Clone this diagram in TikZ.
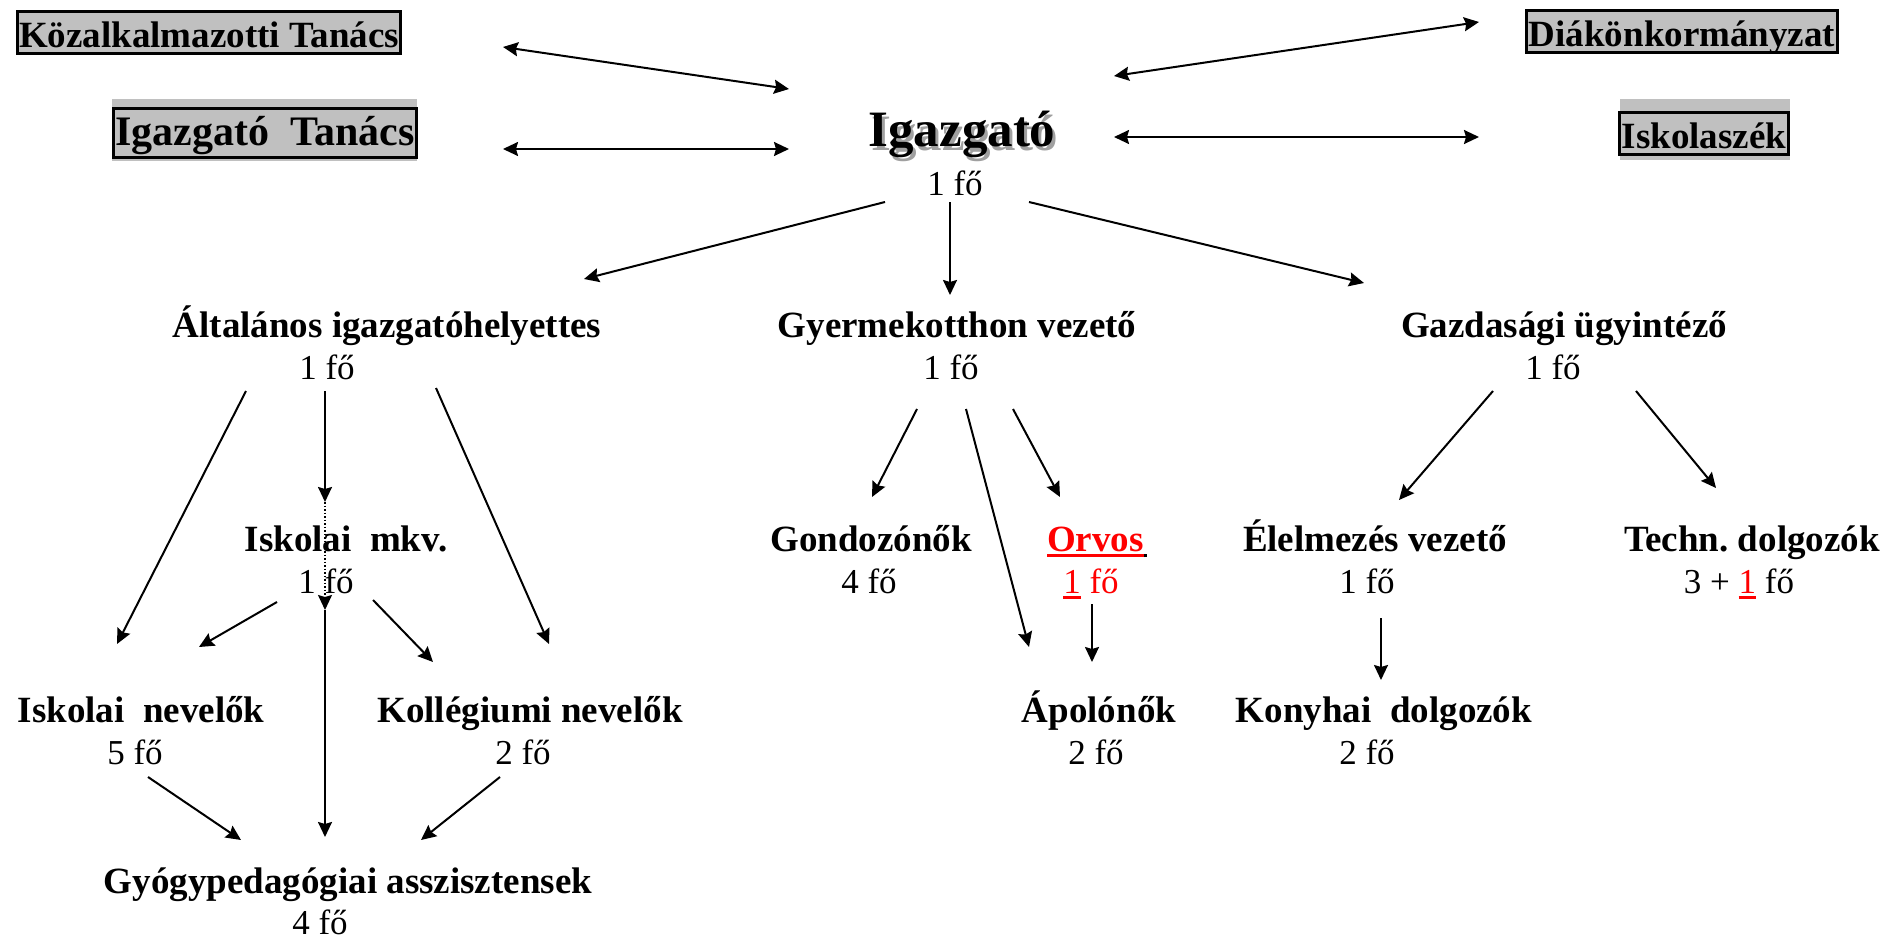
\documentclass[tikz,border=0pt]{standalone}
\usepackage{fontspec}
\setmainfont{Liberation Serif}
\usetikzlibrary{arrows.meta, backgrounds}
\definecolor{boxgray}{RGB}{192,192,192}
\definecolor{shadowgray}{RGB}{160,160,160}
\definecolor{docred}{RGB}{255,0,0}
\frenchspacing

% underline with a thick rule, in the current colour
\newsavebox{\ulbox}
\newcommand{\ulined}[1]{\sbox{\ulbox}{#1}\rlap{\rule[-6pt]{\wd\ulbox}{3pt}}\usebox{\ulbox}}

\begin{document}
\begin{tikzpicture}[
    x=1pt, y=-1pt,
    title/.style={anchor=base, inner sep=0pt, font=\fontsize{37}{40}\selectfont\bfseries},
    count/.style={anchor=base, inner sep=0pt, font=\fontsize{35}{40}\selectfont},
    board/.style={anchor=base, draw=black, line width=3pt, fill=boxgray, inner xsep=2pt, inner ysep=0pt, text height=36pt, text depth=5.5pt, font=\fontsize{37}{40}\selectfont\bfseries},
    arrow/.style={-{Stealth[length=15pt, width=14pt, inset=2pt]}, line width=2pt},
    twoway/.style={{Stealth[length=15pt, width=14pt, inset=2pt]}-{Stealth[length=15pt, width=14pt, inset=2pt]}, line width=2pt}
]
    \useasboundingbox (0,0) rectangle (1888,939);

    % boards
    \node[board] (koz) at (209,48) {Közalkalmazotti Tanács};
    \node[board, text height=37.5pt, text depth=11.5pt, font=\fontsize{42}{46}\selectfont\bfseries] (igt) at (265,146) {Igazgató\ \ Tanács};
    \node[board] (diak) at (1682,47) {Diákönkormányzat};
    \node[board] (iskszek) at (1704,149) {Iskolaszék};
    \begin{scope}[on background layer]
        \fill[boxgray] ([shift={(0,-8)}]igt.north west) rectangle ([shift={(-1,2)}]igt.south east);
        \fill[boxgray] ([shift={(2,-12)}]iskszek.north west) rectangle ([shift={(0,4)}]iskszek.south east);
    \end{scope}

    % head
    \node[anchor=base, inner sep=0pt, font=\fontsize{51}{56}\selectfont\bfseries, text=shadowgray] (ig-shadow) at (965,150) {Igazgató};
    \node[anchor=base, inner sep=0pt, font=\fontsize{51}{56}\selectfont\bfseries] (ig) at (962,147) {Igazgató};
    \node[count] (ig-n) at (955,195) {1 fő};

    % second level
    \node[title] (alt) at (387,337) {Általános igazgatóhelyettes};
    \node[count] (alt-n) at (327,379) {1 fő};
    \node[title] (gyer) at (957,337) {Gyermekotthon vezető};
    \node[count] (gyer-n) at (951,379) {1 fő};
    \node[title] (gaz) at (1564,337) {Gazdasági ügyintéző};
    \node[count] (gaz-n) at (1553,379) {1 fő};

    % third level
    \node[title] (mkv) at (346,551) {Iskolai\ \ mkv.};
    \node[count] (mkv-n) at (326,593) {1 fő};
    \node[title] (gond) at (871,551) {Gondozónők};
    \node[count] (gond-n) at (869,593) {4 fő};
    \node[title, text=docred] (orvos) at (1097,551) {\ulined{Orvos}{\color{black}\rule[-6pt]{3pt}{3pt}}};
    \node[count, text=docred] (orvos-n) at (1091,593) {\ulined{1} fő};
    \node[title] (elel) at (1375,551) {Élelmezés vezető};
    \node[count] (elel-n) at (1367,593) {1 fő};
    \node[title] (techn) at (1752,551) {Techn. dolgozók};
    \node[count] (techn-n) at (1739,593) {3 + {\color{docred}\ulined{1}} fő};

    % fourth level
    \node[title] (isknev) at (141,722) {Iskolai\ \ nevelők};
    \node[count] (isknev-n) at (135,764) {5 fő};
    \node[title] (koll) at (530,722) {Kollégiumi nevelők};
    \node[count] (koll-n) at (523,764) {2 fő};
    \node[title] (apol) at (1099,722) {Ápolónők};
    \node[count] (apol-n) at (1096,764) {2 fő};
    \node[title] (konyha) at (1384,722) {Konyhai\ \ dolgozók};
    \node[count] (konyha-n) at (1367,764) {2 fő};

    % fifth level
    \node[title] (gyogy) at (348,893) {Gyógypedagógiai asszisztensek};
    \node[count] (gyogy-n) at (320,934) {4 fő};

    % links to the boards
    \draw[twoway] ([shift={(294,-1)}]koz.base) -- ([shift={(-173,-58)}]ig.base);
    \draw[twoway] ([shift={(238,3)}]igt.base) -- ([shift={(-173,2)}]ig.base);
    \draw[twoway] ([shift={(152,-71)}]ig.base) -- ([shift={(-203,-25)}]diak.base);
    \draw[twoway] ([shift={(152,-10)}]ig.base) -- ([shift={(-225,-12)}]iskszek.base);

    % from the head
    \draw[arrow] ([shift={(-70,7)}]ig-n.base) -- ([shift={(197,-58)}]alt.base);
    \draw[arrow] ([shift={(-5,7)}]ig-n.base) -- ([shift={(-7,-42)}]gyer.base);
    \draw[arrow] ([shift={(74,7)}]ig-n.base) -- ([shift={(-200,-54)}]gaz.base);

    % school side
    \draw[arrow] ([shift={(-81,12)}]alt-n.base) -- ([shift={(-24,-78)}]isknev.base);
    \draw[arrow] ([shift={(-2,12)}]alt-n.base) -- ([shift={(-21,-49)}]mkv.base);
    \draw[arrow] ([shift={(109,9)}]alt-n.base) -- ([shift={(19,-78)}]koll.base);
    \draw[arrow, line width=1.5pt, dotted] ([shift={(-21,-49)}]mkv.base) -- ([shift={(-1,17)}]mkv-n.base);
    \draw[arrow] ([shift={(-1,17)}]mkv-n.base) -- ([shift={(-23,-56)}]gyogy.base);
    \draw[arrow] ([shift={(-49,9)}]mkv-n.base) -- ([shift={(58,-75)}]isknev.base);
    \draw[arrow] ([shift={(47,7)}]mkv-n.base) -- ([shift={(-97,-60)}]koll.base);
    \draw[arrow] ([shift={(13,13)}]isknev-n.base) -- ([shift={(-107,-53)}]gyogy.base);
    \draw[arrow] ([shift={(-23,13)}]koll-n.base) -- ([shift={(73,-53)}]gyogy.base);

    % children's home
    \draw[arrow] ([shift={(-34,30)}]gyer-n.base) -- ([shift={(1,-54)}]gond.base);
    \draw[arrow] ([shift={(15,30)}]gyer-n.base) -- ([shift={(-70,-75)}]apol.base);
    \draw[arrow] ([shift={(62,30)}]gyer-n.base) -- ([shift={(-37,-54)}]orvos.base);
    \draw[arrow] ([shift={(1,11)}]orvos-n.base) -- ([shift={(-7,-60)}]apol.base);

    % finance
    \draw[arrow] ([shift={(-60,12)}]gaz-n.base) -- ([shift={(24,-51)}]elel.base);
    \draw[arrow] ([shift={(83,12)}]gaz-n.base) -- ([shift={(-36,-63)}]techn.base);
    \draw[arrow] ([shift={(14,25)}]elel-n.base) -- ([shift={(-3,-42)}]konyha.base);
\end{tikzpicture}
\end{document}
